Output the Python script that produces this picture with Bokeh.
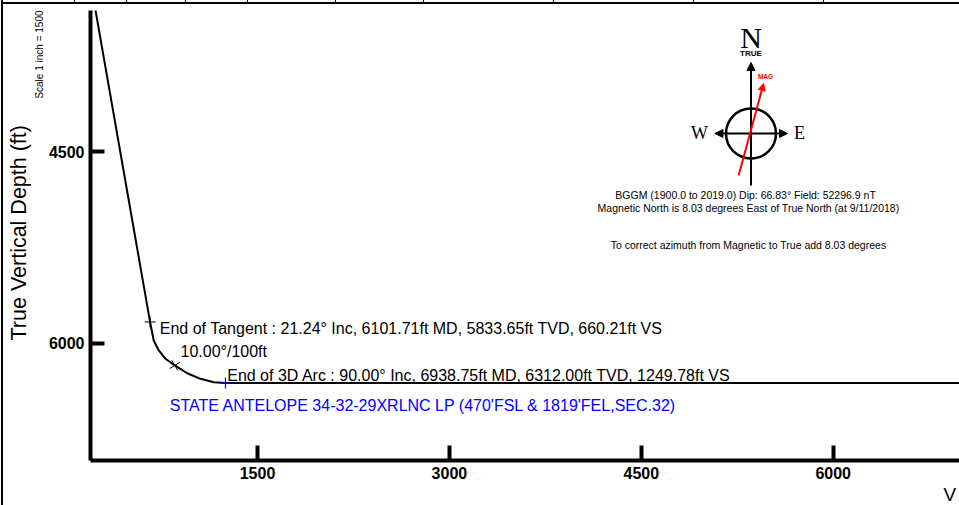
from bokeh.plotting import figure
from bokeh.models import (Range1d, FixedTicker, Label, Arrow, NormalHead, Title, Div)
from bokeh.layouts import row, column
from bokeh.embed import file_html
from bokeh.resources import INLINE

# ---------------- data ----------------
# well path: vertical section (ft) vs true vertical depth (ft)
path_vs = [217.0, 660.21, 689.0, 728.5, 781.0, 853.6, 950.5, 1054.5, 1158.5, 1249.78, 10500.0]
path_tvd = [3300.0, 5833.65, 5979.0, 6057.0, 6122.0, 6174.0, 6235.0, 6278.6, 6305.0, 6312.0, 6312.0]

# survey stations that are marked
tangent_vs, tangent_tvd = [660.21], [5833.65]
dls_vs, dls_tvd = [853.6], [6174.0]
arc_vs, arc_tvd = [1249.78], [6312.0]

x_ticks = [1500, 3000, 4500, 6000]
y_ticks = [4500, 6000]

label_tangent = "End of Tangent : 21.24\u00b0 Inc, 6101.71ft MD, 5833.65ft TVD, 660.21ft VS"
label_dls = "10.00\u00b0/100ft"
label_arc = "End of 3D Arc : 90.00\u00b0 Inc, 6938.75ft MD, 6312.00ft TVD, 1249.78ft VS"
label_target = "STATE ANTELOPE 34-32-29XRLNC LP (470'FSL & 1819'FEL,SEC.32)"
mag_lines = ["BGGM (1900.0 to 2019.0) Dip: 66.83\u00b0   Field: 52296.9 nT",
             "Magnetic North is 8.03 degrees East of True North (at 9/11/2018)",
             "To correct azimuth from Magnetic to True add 8.03 degrees"]

# widths of the header table cells along the top edge
header_cells = [74, 52, 59, 62, 88, 88, 130, 140, 130, 135]

FONT = "Liberation Sans"

p = figure(width=956, height=501, output_backend="svg", toolbar_location=None,
           x_range=Range1d(194.6, 6987.4), y_range=Range1d(6917.8, 3396.7),
           min_border_left=87, min_border_right=0, min_border_top=6,
           min_border_bottom=45)
p.outline_line_color = None
p.grid.visible = False
p.background_fill_color = "white"
p.border_fill_color = "white"

for ax, ticks, tin in ((p.xaxis[0], x_ticks, 15), (p.yaxis[0], y_ticks, 14)):
    ax.ticker = FixedTicker(ticks=ticks)
    ax.axis_line_width = 4
    ax.axis_line_color = "black"
    ax.major_tick_line_width = 4
    ax.major_tick_line_color = "black"
    ax.major_tick_in = tin
    ax.major_tick_out = 0
    ax.minor_tick_line_color = None
    ax.major_label_text_font = FONT
    ax.major_label_text_font_style = "bold"
    ax.major_label_text_font_size = "16px"
    ax.major_label_text_color = "black"
    ax.major_label_standoff = 6

# side titles
p.add_layout(Title(text="Scale 1 inch = 1500", align="right", offset=0, standoff=2,
                   text_font=FONT, text_font_size="10px", text_font_style="normal",
                   text_color="black"), "left")
p.add_layout(Title(text="True Vertical Depth (ft)", align="left", offset=120, standoff=0,
                   text_font=FONT, text_font_size="21.5px", text_font_style="normal",
                   text_color="black"), "left")
p.add_layout(Title(text="V", align="left", offset=853, standoff=0,
                   text_font=FONT, text_font_size="19px", text_font_style="normal",
                   text_color="black"), "below")

# well path
p.line(path_vs, path_tvd, line_color="black", line_width=2)
p.scatter(tangent_vs, tangent_tvd, marker="cross", size=11, line_color="black", line_width=1)
p.scatter(dls_vs, dls_tvd, marker="cross", size=12, angle=0.55, line_color="black", line_width=1)
p.scatter(arc_vs, arc_tvd, marker="cross", size=11, line_color="blue", line_width=1.2)

def lab(x, y, text, size, color="black", align="left", baseline="alphabetic",
        angle=0, font=FONT, style="normal"):
    p.add_layout(Label(x=x, y=y, text=text, text_font=font, text_font_size=size,
                       text_color=color, text_align=align, text_baseline=baseline,
                       angle=angle, text_font_style=style))

lab(736.3, 5887.3, label_tangent, "16px")
lab(898.2, 6062.6, label_dls, "16px")
lab(1263.2, 6252.7, label_arc, "16px")
lab(814.5, 6489.8, label_target, "16px", color="blue")

# compass rose
cx, cy = 5357.6, 4359.0
p.scatter([cx], [cy], marker="circle", size=50, fill_alpha=0, line_color="black", line_width=2.5)
p.add_layout(Arrow(x_start=cx, y_start=4766.0, x_end=cx, y_end=3803.6, line_width=2,
                   end=NormalHead(size=8, fill_color="black", line_color="black")))
p.add_layout(Arrow(x_start=5076.0, y_start=cy, x_end=5643.0, y_end=cy, line_width=2,
                   start=NormalHead(size=8, fill_color="black", line_color="black"),
                   end=NormalHead(size=8, fill_color="black", line_color="black")))
p.add_layout(Arrow(x_start=5261.0, y_start=4688.0, x_end=5456.0, y_end=3968.0,
                   line_width=2, line_color="red",
                   end=NormalHead(size=7, fill_color="red", line_color="red")))
lab(cx, 3608.0, "N", "30px", align="center", baseline="middle", font="Liberation Serif")
lab(cx, 3733.0, "TRUE", "8px", align="center", baseline="middle", style="bold")
lab(5471.0, 3915.0, "MAG", "6.5px", color="red", align="center", baseline="middle", style="bold")
lab(4955.0, cy, "W", "18px", align="center", baseline="middle", font="Liberation Serif")
lab(5737.0, cy, "E", "18px", align="center", baseline="middle", font="Liberation Serif")
for ty, t in zip([4836.5, 4938.2, 5227.7], mag_lines):
    lab(5338.0, ty, t, "10.5px", align="center", baseline="middle")

# page frame: header table rule along the top, border down the left side
cell_style = {"border-right": "1px solid black", "border-bottom": "2px solid black",
              "box-sizing": "border-box", "background-color": "white"}
cells = [Div(text="", width=1, height=4, margin=0)]
for i, w in enumerate(header_cells):
    st = dict(cell_style)
    if i == 0:
        st["border-left"] = "2px solid black"
    if i == len(header_cells) - 1:
        st.pop("border-right")
    cells.append(Div(text="", width=w, height=4, margin=0, styles=st))
header = row(*cells, spacing=0, margin=0)
left_rule = Div(text="", width=3, height=501, margin=0,
                styles={"border-right": "2px solid black", "box-sizing": "border-box"})
page = column(header, row(left_rule, p, spacing=0, margin=0), spacing=0, margin=0)

open("out.html", "w").write(file_html(page, INLINE))
